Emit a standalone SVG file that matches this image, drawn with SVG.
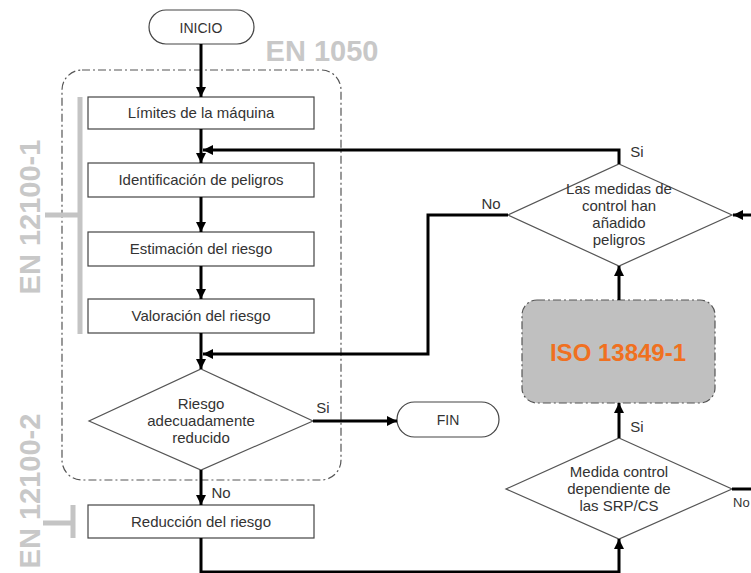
<svg xmlns="http://www.w3.org/2000/svg" width="751" height="573" viewBox="0 0 751 573">
<defs>
<marker id="ah" viewBox="0 0 10 10" refX="10" refY="5" markerWidth="10" markerHeight="10" markerUnits="userSpaceOnUse" orient="auto">
<path d="M0,0 L10,5 L0,10 z" fill="#000"/>
</marker>
<style>
.t{font-family:"Liberation Sans",Arial,sans-serif;font-size:15px;fill:#333;text-anchor:middle}
.box{fill:#fff;stroke:#444;stroke-width:1.2}
.dia{fill:#fff;stroke:#555;stroke-width:1.2}
.term{fill:#fff;stroke:#444;stroke-width:1.2}
.c{fill:none;stroke:#000;stroke-width:3}
.ca{fill:none;stroke:#000;stroke-width:3;marker-end:url(#ah)}
.std{font-family:"Liberation Sans",Arial,sans-serif;font-weight:bold;font-size:29px;fill:#c8c8c8;text-anchor:middle}
.br{fill:none;stroke:#c4c4c4;stroke-width:5}
.dd{stroke:#555;stroke-width:1.2;stroke-dasharray:8,3,2,3}
</style>
</defs>
<rect width="751" height="573" fill="#fff"/>

<g id="en1050-frame">
<rect x="62" y="70" width="279" height="410" rx="20" fill="none" class="dd"/>
<text class="std" x="322" y="61">EN 1050</text>
</g>

<g id="en12100-1">
<path class="br" d="M80,97 V334 M45,215 H80"/>
<text class="std" transform="translate(40,217) rotate(-90)" x="0" y="0">EN 12100-1</text>
</g>

<g id="en12100-2">
<path class="br" d="M73,505 V538 M43,523 H73"/>
<text class="std" transform="translate(40,491) rotate(-90)" x="0" y="0">EN 12100-2</text>
</g>

<g id="inicio">
<rect class="term" x="149" y="10" width="105" height="34" rx="17"/>
<text class="t" x="201" y="33" style="font-size:14px">INICIO</text>
</g>

<g id="limites">
<rect class="box" x="88" y="97" width="226" height="32"/>
<text class="t" x="201" y="118">Límites de la máquina</text>
</g>

<g id="identificacion">
<rect class="box" x="88" y="163" width="226" height="34"/>
<text class="t" x="201" y="185">Identificación de peligros</text>
</g>

<g id="estimacion">
<rect class="box" x="88" y="232" width="226" height="34"/>
<text class="t" x="201" y="254">Estimación del riesgo</text>
</g>

<g id="valoracion">
<rect class="box" x="88" y="299" width="226" height="34"/>
<text class="t" x="201" y="321">Valoración del riesgo</text>
</g>

<g id="riesgo-reducido">
<polygon class="dia" points="201,369 313,421 201,470 89,421"/>
<text class="t" x="201" y="409">Riesgo</text>
<text class="t" x="201" y="426">adecuadamente</text>
<text class="t" x="201" y="443">reducido</text>
</g>

<g id="fin">
<rect class="term" x="397" y="402" width="102" height="35" rx="17.5"/>
<text class="t" x="448" y="425" style="font-size:14px">FIN</text>
</g>

<g id="reduccion">
<rect class="box" x="88" y="505" width="226" height="33"/>
<text class="t" x="201" y="527">Reducción del riesgo</text>
</g>

<g id="medidas-peligros">
<polygon class="dia" points="619,164 732,215 619,266 508,215"/>
<text class="t" x="619" y="194">Las medidas de</text>
<text class="t" x="619" y="211">control han</text>
<text class="t" x="619" y="228">añadido</text>
<text class="t" x="619" y="245">peligros</text>
</g>

<g id="iso13849">
<rect x="522" y="300" width="193" height="103" rx="15" fill="#c0c0c0" class="dd"/>
<text x="618" y="361" style="font-family:'Liberation Sans',Arial,sans-serif;font-weight:bold;font-size:24px;fill:#f07020;text-anchor:middle">ISO 13849-1</text>
</g>

<g id="medida-srp">
<polygon class="dia" points="619,438 732,489 619,539 506,489"/>
<text class="t" x="619" y="477">Medida control</text>
<text class="t" x="619" y="494">dependiente de</text>
<text class="t" x="619" y="511">las SRP/CS</text>
</g>

<g id="connectors">
<path class="ca" d="M201,44 V97"/>
<path class="ca" d="M201,129 V163"/>
<path class="ca" d="M201,197 V232"/>
<path class="ca" d="M201,266 V299"/>
<path class="ca" d="M201,333 V369"/>
<path class="ca" d="M201,470 V505"/>
<path class="ca" d="M313,421 H397"/>
<path class="ca" d="M201,538 V572 H619 V539"/>
<path class="ca" d="M619,438 V403"/>
<path class="ca" d="M619,300 V266"/>
<path class="ca" d="M619,164 V150 H203"/>
<path class="ca" d="M508,215 H428 V354 H203"/>
<path class="ca" d="M751,215 H733"/>
<path class="c" d="M732,489 H751"/>
<text class="t" x="323" y="413">Si</text>
<text class="t" x="221" y="498">No</text>
<text class="t" x="637" y="157">Si</text>
<text class="t" x="491" y="209">No</text>
<text class="t" x="637" y="432">Si</text>
<text class="t" x="733" y="507" style="font-size:13px;text-anchor:start">No</text>
</g>
</svg>
